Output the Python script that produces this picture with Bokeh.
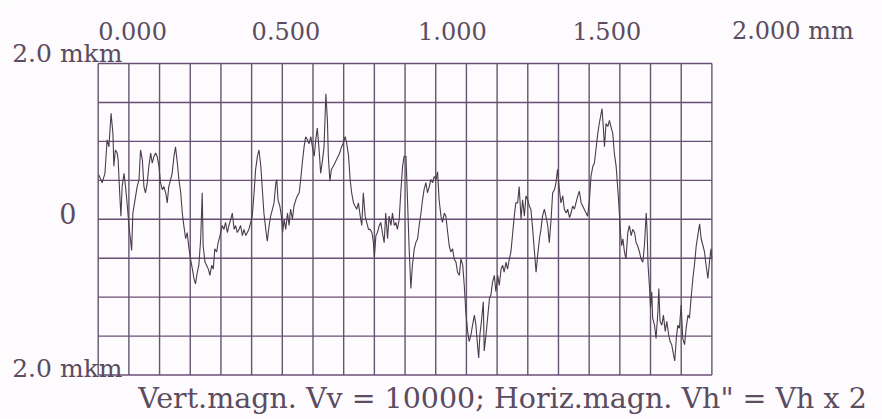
from bokeh.plotting import figure
from bokeh.models import Range1d, Label
from bokeh.embed import file_html
from bokeh.resources import INLINE

# profile trace: position along the trace (mm) and height (mkm)
x_mm = [0.002, 0.013, 0.022, 0.029, 0.035, 0.042, 0.048, 0.051, 0.056, 0.062, 0.065, 0.070, 0.074, 0.078,
        0.084, 0.089, 0.095, 0.100, 0.105, 0.109, 0.113, 0.120, 0.127, 0.133, 0.138, 0.144, 0.149, 0.154,
        0.160, 0.165, 0.171, 0.176, 0.182, 0.187, 0.192, 0.198, 0.203, 0.209, 0.214, 0.220, 0.225, 0.230,
        0.236, 0.241, 0.247, 0.252, 0.258, 0.263, 0.269, 0.274, 0.279, 0.285, 0.290, 0.296, 0.301, 0.307,
        0.312, 0.317, 0.323, 0.328, 0.334, 0.339, 0.342, 0.348, 0.353, 0.359, 0.364, 0.370, 0.375, 0.380,
        0.386, 0.391, 0.397, 0.404, 0.410, 0.415, 0.421, 0.426, 0.432, 0.437, 0.443, 0.448, 0.453, 0.459,
        0.464, 0.470, 0.475, 0.481, 0.486, 0.491, 0.497, 0.502,
        0.508, 0.513, 0.519, 0.524, 0.530, 0.535, 0.540, 0.546, 0.551, 0.557, 0.562, 0.568, 0.573, 0.579,
        0.582, 0.586, 0.592, 0.597, 0.601, 0.606, 0.611, 0.617, 0.622, 0.627, 0.633, 0.638, 0.644, 0.649,
        0.655, 0.660, 0.665, 0.671, 0.676, 0.682, 0.687, 0.693, 0.698, 0.704, 0.709, 0.714, 0.720, 0.725,
        0.731, 0.736, 0.742, 0.747, 0.750, 0.755, 0.760, 0.766, 0.771, 0.776, 0.782, 0.787, 0.793, 0.798,
        0.805, 0.810, 0.816, 0.821, 0.826, 0.832, 0.837, 0.843, 0.848, 0.854, 0.859, 0.864, 0.870, 0.875,
        0.881, 0.886, 0.892, 0.897, 0.900, 0.905, 0.910, 0.916, 0.921, 0.926, 0.932, 0.937, 0.943, 0.948,
        0.954, 0.959, 0.965, 0.970, 0.975, 0.981, 0.986, 0.992, 0.997, 1.003,
        1.008, 1.013, 1.019, 1.024, 1.030, 1.035, 1.041, 1.046, 1.052, 1.057, 1.062, 1.068, 1.073, 1.079,
        1.084, 1.090, 1.095, 1.101, 1.106, 1.111, 1.117, 1.122, 1.128, 1.133, 1.139, 1.144, 1.149, 1.155,
        1.160, 1.166, 1.171, 1.177, 1.182, 1.188, 1.193, 1.198, 1.204, 1.209, 1.215, 1.220, 1.226, 1.231,
        1.236, 1.240, 1.244, 1.249, 1.255, 1.258, 1.264, 1.269, 1.275, 1.280, 1.285, 1.291, 1.296, 1.302,
        1.307, 1.313, 1.318, 1.323, 1.329, 1.334, 1.340, 1.345, 1.351, 1.356, 1.361, 1.367, 1.372, 1.378,
        1.383, 1.389, 1.394, 1.400, 1.405, 1.410, 1.416, 1.421, 1.427, 1.432, 1.438, 1.443, 1.448, 1.454,
        1.459, 1.465, 1.470, 1.476, 1.481, 1.487, 1.492, 1.497, 1.503, 1.508, 1.514, 1.519, 1.525,
        1.530, 1.536, 1.541, 1.546, 1.552, 1.557, 1.563, 1.568, 1.574, 1.579, 1.584, 1.590, 1.595, 1.601,
        1.606, 1.612, 1.617, 1.622, 1.628, 1.633, 1.639, 1.642, 1.646, 1.650, 1.655, 1.661, 1.666, 1.671,
        1.677, 1.682, 1.688, 1.691, 1.695, 1.699, 1.702, 1.706, 1.710, 1.715, 1.720, 1.726, 1.731, 1.737,
        1.742, 1.748, 1.753, 1.758, 1.764, 1.769, 1.775, 1.780, 1.786, 1.789, 1.792, 1.797, 1.800, 1.804,
        1.807, 1.813, 1.818, 1.824, 1.827, 1.831, 1.837, 1.842, 1.848, 1.853, 1.859, 1.864, 1.869, 1.875,
        1.879, 1.884, 1.889, 1.894, 1.900, 1.905, 1.911, 1.916, 1.922, 1.927, 1.932, 1.938, 1.943, 1.949,
        1.954, 1.960, 1.965, 1.971, 1.976, 1.981, 1.987, 1.992, 1.997, 2.000]

height_mkm = [0.57, 0.47, 0.59, 1.02, 0.93, 1.36, 1.10, 0.68, 0.89, 0.85, 0.76, 0.34, 0.04, 0.42,
              0.59, 0.42, 0.17, -0.08, -0.25, -0.40, 0.08, 0.25, 0.42, 0.51, 0.89, 0.76, 0.42, 0.34,
              0.47, 0.68, 0.85, 0.72, 0.81, 0.85, 0.81, 0.68, 0.47, 0.38, 0.42, 0.34, 0.21, 0.42,
              0.51, 0.59, 0.81, 0.93, 0.72, 0.51, 0.34, 0.08, -0.08, -0.25, -0.17, -0.38, -0.51, -0.64,
              -0.76, -0.83, -0.68, -0.59, -0.25, 0.34, -0.34, -0.55, -0.59, -0.64, -0.72, -0.59, -0.64, -0.38,
              -0.42, -0.30, -0.21, -0.08, -0.13, -0.04, -0.17, -0.08, 0.00, 0.08, -0.13, -0.08, -0.17, -0.13,
              -0.08, -0.21, -0.13, -0.21, -0.17, -0.13, -0.04, 0.04,
              0.34, 0.64, 0.81, 0.89, 0.68, 0.38, 0.08, -0.13, -0.28, -0.08, 0.04, 0.13, 0.21, 0.47,
              0.51, 0.25, 0.17, 0.04, -0.17, 0.00, -0.13, 0.08, -0.08, 0.13, 0.00, 0.17, 0.25, 0.30,
              0.34, 0.51, 0.72, 0.93, 1.06, 1.02, 0.97, 1.06, 0.93, 0.81, 1.02, 1.17, 0.89, 0.59,
              0.76, 0.93, 1.61, 1.27, 0.81, 0.49, 0.64, 0.68, 0.72, 0.76, 0.81, 0.85, 0.93, 0.97,
              1.06, 0.97, 0.81, 0.51, 0.34, 0.21, 0.17, 0.13, 0.21, 0.04, -0.08, 0.34, 0.04, -0.04,
              -0.13, -0.13, -0.17, -0.30, -0.49, -0.21, -0.17, -0.08, -0.04, -0.17, -0.30, 0.08, -0.25, 0.04,
              -0.08, 0.08, -0.08, -0.04, -0.13, 0.00, 0.34, 0.68, 0.81, 0.81,
              0.25, -0.34, -0.89, -0.59, -0.38, -0.30, -0.25, -0.08, 0.08, 0.25, 0.38, 0.47, 0.34, 0.42,
              0.51, 0.47, 0.55, 0.51, 0.61, 0.25, 0.04, -0.04, 0.08, 0.04, -0.17, -0.34, -0.42, -0.38,
              -0.51, -0.55, -0.68, -0.72, -0.51, -0.59, -0.85, -1.19, -1.44, -1.57, -1.48, -1.36, -1.23, -1.36,
              -1.61, -1.78, -1.48, -1.31, -1.06, -1.69, -1.48, -1.27, -1.02, -0.97, -0.81, -0.72, -0.93, -0.72,
              -0.85, -0.64, -0.59, -0.68, -0.55, -0.64, -0.51, -0.42, -0.17, 0.04, 0.21, 0.21, 0.42, 0.00,
              0.25, 0.04, 0.30, 0.25, 0.17, 0.13, -0.13, -0.38, -0.68, -0.47, -0.25, -0.13, 0.04, 0.13,
              0.04, -0.08, -0.30, 0.00, 0.34, 0.38, 0.47, 0.64, 0.38, 0.21, 0.30, 0.13, 0.08,
              0.13, 0.02, 0.08, 0.17, 0.13, 0.21, 0.30, 0.36, 0.21, 0.17, 0.13, 0.08, 0.04, 0.25,
              0.55, 0.68, 0.72, 0.89, 1.10, 1.23, 1.36, 1.42, 1.19, 0.93, 1.23, 1.19, 1.27, 1.19,
              1.10, 0.85, 0.68, 0.51, 0.30, 0.04, -0.17, -0.34, -0.25, -0.42, -0.51, -0.17, -0.08, -0.21,
              -0.13, -0.17, -0.30, -0.34, -0.42, -0.51, -0.55, -0.34, 0.08, -0.17, -0.59, -0.89, -1.14, -0.93,
              -1.27, -1.36, -1.53, -1.19, -0.89, -1.31, -1.36, -1.23, -1.44, -1.31, -1.48, -1.57, -1.61, -1.74,
              -1.82, -1.53, -1.36, -1.40, -1.10, -1.53, -1.61, -1.40, -1.23, -1.27, -1.02, -0.76, -0.59, -0.34,
              -0.21, -0.06, -0.25, -0.34, -0.42, -0.59, -0.76, -0.55, -0.38, -0.51]

# chart box and grid: 0.1 mm columns, 0.5 mkm rows
x_min, x_max = 0.0, 2.0
y_min, y_max = -2.0, 2.0
grid_x = [0.0, 0.1, 0.2, 0.3, 0.4, 0.5, 0.6, 0.7, 0.8, 0.9, 1.0,
          1.1, 1.2, 1.3, 1.4, 1.5, 1.6, 1.7, 1.8, 1.9, 2.0]
grid_y = [-2.0, -1.5, -1.0, -0.5, 0.0, 0.5, 1.0, 1.5, 2.0]

# labels
top_tick_pos = [0.0, 0.5, 1.0, 1.5, 2.0]
top_tick_text = ["0.000", "0.500", "1.000", "1.500", "2.000 mm"]
left_label_pos = [2.0, 0.0, -2.0]
left_label_text = ["2.0 mkm", "0", "2.0 mkm"]
caption = 'Vert.magn. Vv = 10000; Horiz.magn. Vh" = Vh x 2'

INK = "#5b4c60"
VGRID = "#65556e"
HGRID = "#6a4f74"
BG = "#fdfbfd"
FONT = "DejaVu Serif"

# the frame covers the whole canvas; the chart box is placed by the ranges
p = figure(width=882, height=419, output_backend="svg", toolbar_location=None,
           x_axis_location=None, y_axis_location=None,
           x_range=Range1d(-0.3184, 2.556), y_range=Range1d(-2.571, 2.809),
           min_border=0, background_fill_color=BG, border_fill_color=BG)
p.outline_line_color = None
p.xgrid.visible = False
p.ygrid.visible = False

p.segment(x0=grid_x, y0=[y_min] * len(grid_x), x1=grid_x, y1=[y_max] * len(grid_x),
          line_color=VGRID, line_width=1.4)
p.segment(x0=[x_min] * len(grid_y), y0=grid_y, x1=[x_max] * len(grid_y), y1=grid_y,
          line_color=HGRID, line_width=1.4)

p.line(x_mm, height_mkm, line_color="#4a3c4c", line_width=1.1)

# screen offsets for the labels (scan placement)
top_offsets = [0, 0, 13, 14, 20]
for xv, t, dx in zip(top_tick_pos, top_tick_text, top_offsets):
    p.add_layout(Label(x=xv, y=y_max, x_offset=dx, y_offset=33, text=t,
                       text_font=FONT, text_font_size="24px", text_color=INK,
                       text_align="left", text_baseline="alphabetic"))

left_dx = [-86, -39, -86]
left_dy = [10, 6, 6.5]
left_sizes = ["25px", "27px", "25px"]
for yv, t, dx, dy, fs in zip(left_label_pos, left_label_text, left_dx, left_dy, left_sizes):
    p.add_layout(Label(x=x_min, y=yv, x_offset=dx, y_offset=dy, text=t,
                       text_font=FONT, text_font_size=fs, text_color=INK,
                       text_align="left", text_baseline="alphabetic"))

p.add_layout(Label(x=x_min, y=y_min, x_offset=40, y_offset=-23.5, text=caption,
                   text_font=FONT, text_font_size="28.5px", text_color=INK,
                   text_align="left", text_baseline="alphabetic"))

open("out.html", "w").write(file_html(p, INLINE))
